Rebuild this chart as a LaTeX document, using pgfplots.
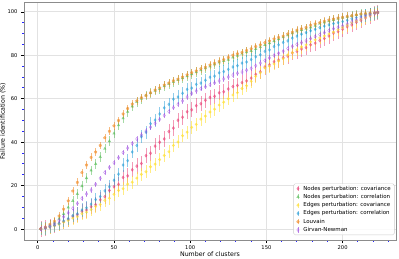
\documentclass[border=0pt]{standalone}
\usepackage{fontspec}
\setmainfont{DejaVu Sans}
\usepackage{pgfplots}
\pgfplotsset{compat=1.18}
\usepackage{pgfplotstable}
\definecolor{cpink}{HTML}{E8336D}
\definecolor{cgreen}{HTML}{4DB84D}
\definecolor{cyellow}{HTML}{FFE033}
\definecolor{cblue}{HTML}{1F9AD6}
\definecolor{corange}{HTML}{F28E2B}
\definecolor{cpurple}{HTML}{A050E0}
\definecolor{gridc}{HTML}{E2E2E2}
\pgfplotstableread{
x pink green yellow blue orange purple
2 0.1 0.1 0.1 0.1 0.2 0.1
5 0.5 0.8 0.5 0.5 1 0.7
8 1.1 1.8 0.9 1.1 2.2 1.4
11 1.7 3 1.5 1.8 3.6 2.4
14 2.6 4.8 2.2 2.6 6 4
17 3.4 7 3.2 3.8 9.2 5.7
20 4.5 10 4 4.8 13 7.5
23 5.8 13 5.1 6.2 17.5 9.6
26 6.6 16.2 5.7 7.1 21.5 11.8
29 8.2 19.8 7.1 8.8 26 14.2
32 8.8 23.5 7.8 9.8 29.5 16.2
35 10.3 27 9 11.5 33 18
38 11.2 30 10.4 13.6 35.5 20.7
41 13.5 33.2 11.3 15 38.5 23.4
44 14.9 37 13.2 17.6 42 26.1
47 17.8 40.5 14.2 19.5 45 28.4
50 19.5 44 16 22.5 47.5 30.5
53 20.6 47.8 17.8 25.3 50 32.9
56 23.8 51 18.6 29.5 53 35.2
59 24.5 54 20.7 31.5 55.5 37.3
62 27.3 56.5 21.6 35.5 57.5 39.4
65 29 58.5 23.5 38.5 59 41.5
68 30.2 60 25.2 42.5 60.5 43.3
71 33.8 61.5 26.4 44.6 61.5 45.1
74 34.9 62.6 28.7 48.5 62.8 46.9
77 38.2 63.7 29.9 50.2 64 48.7
80 40 64.5 32 53 65 50.5
83 41.5 65.8 33.9 55.8 66.3 52.3
86 44.9 66.8 35.6 57.4 67.2 54.1
89 46.5 67.7 38.5 59.8 68.3 55.9
92 50.1 68.6 40.1 60.8 69 57.5
95 51.5 69.5 43 62.5 70 59
98 54 70.4 44.6 64.3 71 60.8
101 54.9 71.3 46.8 64.9 72 62.4
104 56.8 72.2 48.2 66.6 72.8 63.6
107 57.7 73.1 50.6 67.2 73.8 64.6
110 59.3 74 52 68.5 74.5 65.5
113 60.6 74.9 53.9 69.9 75.5 66.4
116 61.1 75.8 55.2 70.4 76.3 67.3
119 62.7 76.7 57.1 71.9 77.2 68.2
122 63.2 77.4 58.4 72.5 78 69.1
125 64.5 78 60 73.5 79 70
128 65.6 79 61.7 74.6 80 70.9
131 66.1 79.8 62.8 75.2 80.7 71.7
134 67.4 80.7 64.7 76.4 81.3 72.3
137 68.2 81.4 66 76.9 82.2 73.1
140 69.5 82 68 78 83 74
143 71.2 82.9 70.3 79.3 84 75.2
146 72.4 83.8 71.9 80.2 84.8 76.4
149 74.6 84.7 74.2 81.8 85.8 77.6
152 75.6 85.6 74.9 82.5 86.6 78.8
155 77 86.5 76 84 87.5 80
158 77.8 87.4 77.3 84.8 88.2 80.9
161 78.9 88.3 78.4 85.9 88.8 81.9
164 79.6 89.2 80.1 86.6 89.8 83.1
167 81.1 90.1 81.2 87.9 90.6 84.1
170 81.8 91 82.5 88.8 91.5 85
173 82.9 91.6 83.8 89.7 92.2 85.8
176 83.5 92.2 84.8 90.4 92.8 86.6
179 84.8 92.8 86.2 91.3 93.8 87.7
182 85.6 93.6 87.1 91.9 94.4 88.6
185 86.8 94.5 88 92.7 95 89.5
188 87.7 95.1 88.9 93.4 95.6 90.4
191 88.9 95.7 89.8 94 96.2 91.3
194 90.2 96.3 90.7 94.6 96.7 92.2
197 90.9 96.8 91.8 95 97.1 92.9
200 92 97.3 92.8 95.5 97.5 93.5
203 93.1 97.7 93.8 96.1 97.9 94.4
206 94 98.1 94.9 96.8 98.2 95.3
209 95.2 98.6 95.7 97.3 98.6 96.2
212 96.1 98.9 96.6 97.9 99 97.1
215 97.2 99.2 97.5 98.5 99.2 98
218 98.1 99.4 98.3 98.9 99.4 98.8
221 99.2 99.6 99.2 99.4 99.6 99.4
223 99.6 99.7 99.6 99.7 99.8 99.7
}\data
\begin{document}
\begin{tikzpicture}[x=1bp,y=1bp]
\path[use as bounding box] (0,0) rectangle (399bp,259bp);
\begin{axis}[
  at={(24bp,19bp)}, anchor=south west,
  scale only axis, width=372bp, height=238bp,
  xmin=-9, xmax=235, ymin=-5, ymax=104.5,
  xtick={0,50,100,150,200}, ytick={0,20,40,60,80,100},
  minor xtick={10,20,30,40,60,70,80,90,110,120,130,140,160,170,180,190,210,220,230},
  minor ytick={5,10,15,25,30,35,45,50,55,65,70,75,85,90,95},
  grid=major, major grid style={gridc, line width=0.8pt},
  axis line style={black!45, line width=0.6pt},
  tick align=outside, tick pos=left,
  major tick length=3bp, minor tick length=1.5bp,
  every tick/.style={black, line width=0.5pt},
  minor tick style={blue!85, line width=0.9pt},
  ticklabel style={font=\fontsize{5.2}{6}\selectfont},
  xticklabel style={yshift=1bp},
  /pgf/number format/assume math mode=true,
  xlabel={Number of clusters}, ylabel={Failure identification (\%)},
  label style={font=\fontsize{6.3}{7.5}\selectfont},
  xlabel style={yshift=5bp}, ylabel style={yshift=-5bp},
  error bars/y dir=both, error bars/y fixed,
  error bars/error bar style={line width=0.5pt},
  error bars/error mark=none,
  legend style={at={(0.996,0.021)}, anchor=south east, font=\fontsize{5.5}{6}\selectfont,
    draw=black!20, rounded corners=1.5pt, fill=white, fill opacity=0.85, text opacity=1,
    row sep=1.6pt, column sep=3.5pt, inner xsep=3pt, inner ysep=1.5pt,
    nodes={inner sep=0.6pt, text height=4.3pt, text depth=1.2pt}},
  legend cell align=left,
  legend image code/.code={
    \draw[#1, mark=none, line width=0.5pt] (0.3cm,-0.09cm) -- (0.3cm,0.09cm);
    \draw[#1, only marks] plot coordinates {(0.3cm,0cm)};},
]
\addplot[only marks, mark=diamond*, mark size=1.6pt, cpink, opacity=0.5,
  error bars/y fixed=3.5, error bars/error bar style={cpink, opacity=0.5}] table[x=x,y=pink]{\data};
\addlegendentry{Nodes perturbation: covariance}
\addplot[only marks, mark=triangle*, mark size=1.5pt, cgreen, opacity=0.5,
  error bars/y fixed=2.2, error bars/error bar style={cgreen, opacity=0.5}] table[x=x,y=green]{\data};
\addlegendentry{Nodes perturbation: correlation}
\addplot[only marks, mark=*, mark size=1.3pt, cyellow, opacity=0.6,
  error bars/y fixed=3, error bars/error bar style={cyellow, opacity=0.6}] table[x=x,y=yellow]{\data};
\addlegendentry{Edges perturbation: covariance}
\addplot[only marks, mark=diamond*, mark size=1.5pt, cblue, opacity=0.5,
  error bars/y fixed=3, error bars/error bar style={cblue, opacity=0.5}] table[x=x,y=blue]{\data};
\addlegendentry{Edges perturbation: correlation}
\addplot[only marks, mark=pentagon*, mark size=1.4pt, corange, opacity=0.6,
  error bars/y fixed=1.8, error bars/error bar style={corange, opacity=0.6}] table[x=x,y=orange]{\data};
\addlegendentry{Louvain}
\addplot[only marks, mark=diamond, mark size=1.6pt, cpurple, opacity=0.7,
  error bars/y fixed=1.2, error bars/error bar style={cpurple, opacity=0.6}] table[x=x,y=purple]{\data};
\addlegendentry{Girvan-Newman}
\end{axis}
\end{tikzpicture}
\end{document}
